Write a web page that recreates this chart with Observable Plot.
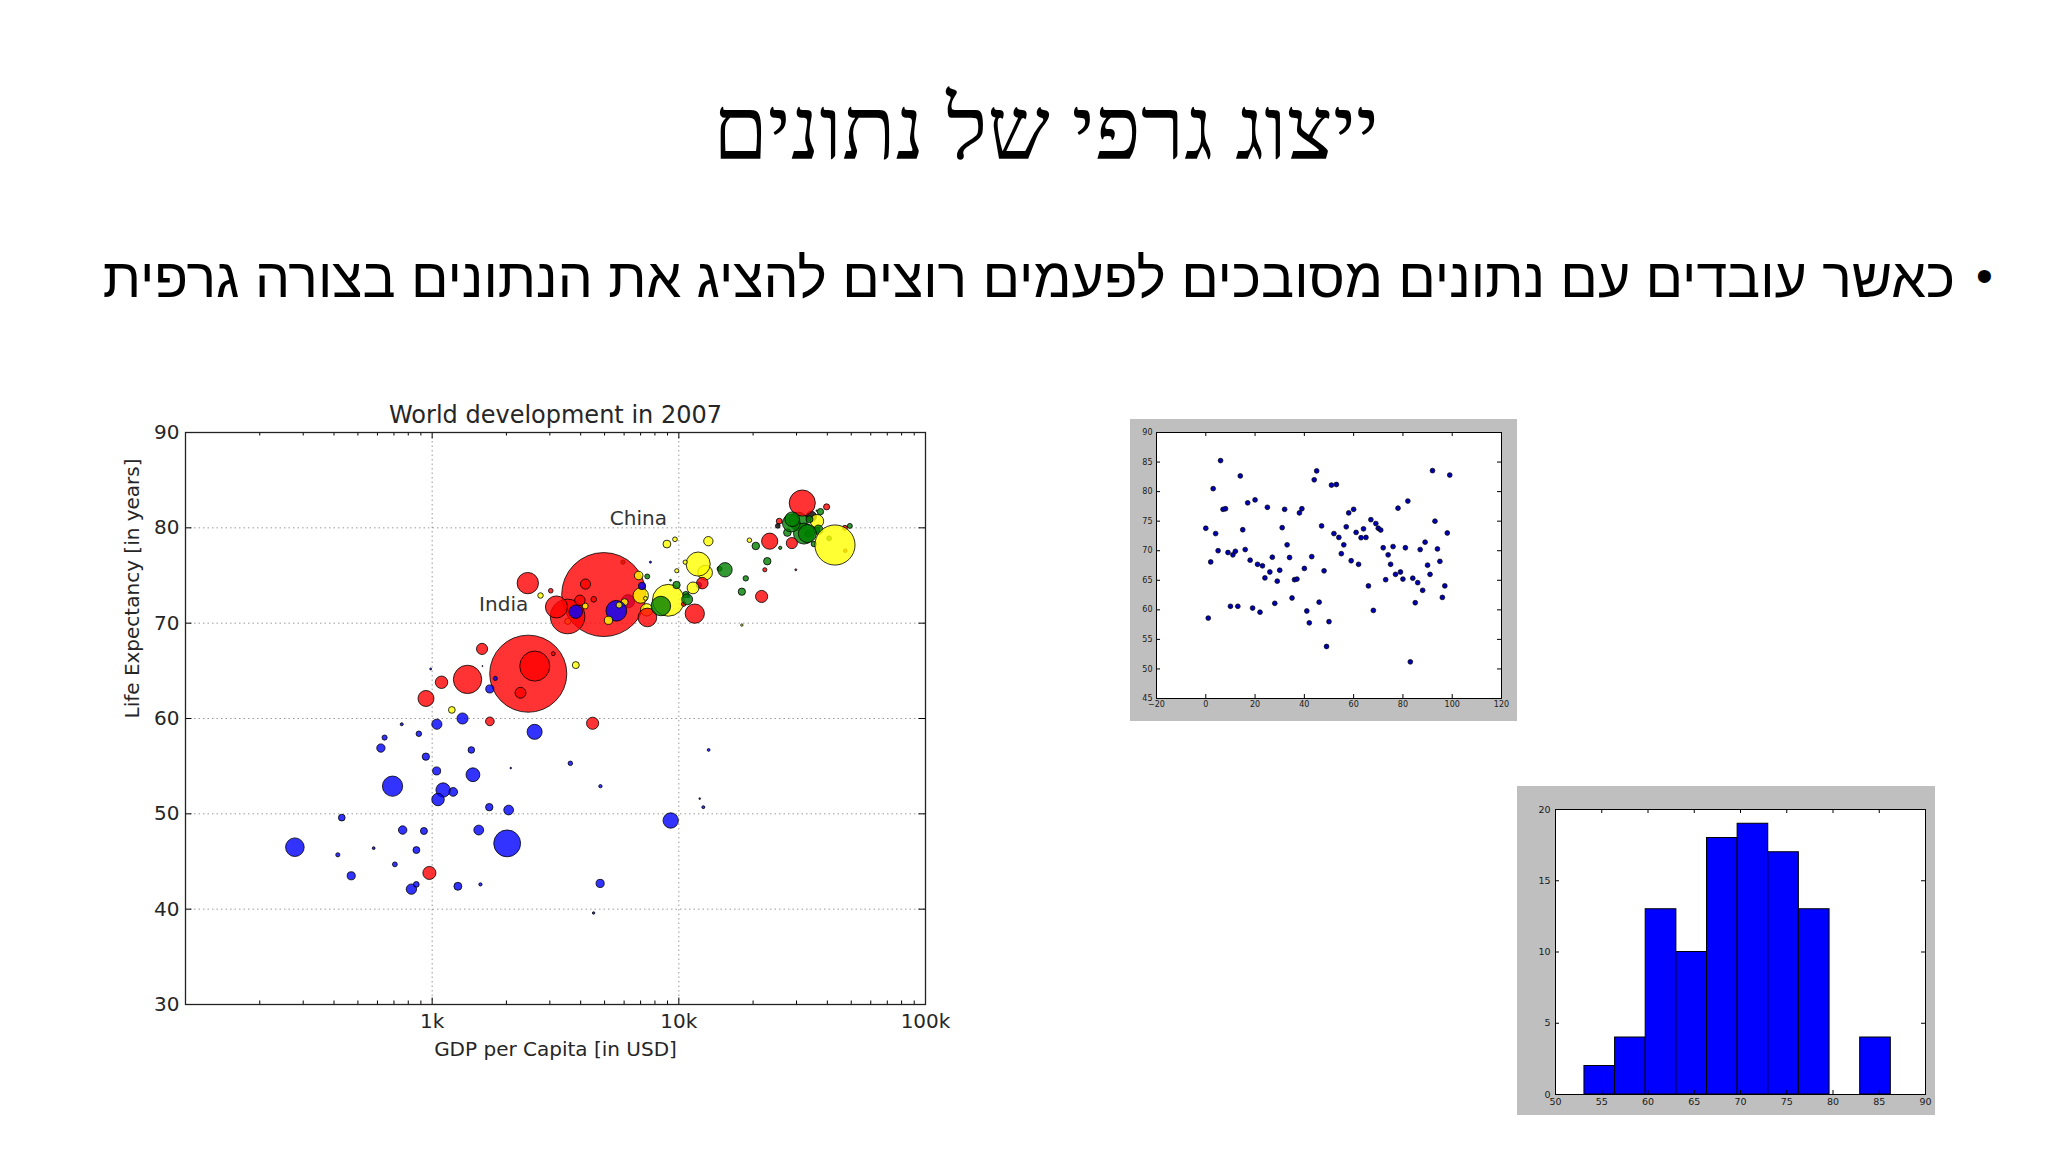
<!DOCTYPE html>
<html>
<head>
<meta charset="utf-8">
<script src="https://cdn.jsdelivr.net/npm/d3@7"></script>
<script src="https://cdn.jsdelivr.net/npm/@observablehq/plot@0.6"></script>
<style>
html, body { margin: 0; padding: 0; background: #ffffff; }
#slide { position: relative; width: 2048px; height: 1152px; overflow: hidden; background: #ffffff; }
#title { position: absolute; left: 1046px; top: 86px; transform: translateX(-50%);
  font-family: "Liberation Serif", "DejaVu Serif", serif; font-size: 88px; line-height: 1;
  direction: rtl; white-space: nowrap; color: #000; }
#bullet-text { position: absolute; right: 93px; top: 251px;
  font-family: "Liberation Sans", "DejaVu Sans", sans-serif; font-size: 55.4px; line-height: 1;
  direction: rtl; white-space: nowrap; color: #000; }
#bullet-dot { position: absolute; left: 1976px; top: 252px;
  font-family: "Liberation Sans", sans-serif; font-size: 48px; line-height: 1; color: #000; }
.chart { position: absolute; }
</style>
</head>
<body>
<div id="slide">
  <div id="title"></div>
  <div id="bullet-dot">•</div>
  <div id="bullet-text"></div>
  <div id="c1" class="chart" style="left:100px; top:380px;"></div>
  <div id="c2" class="chart" style="left:1130px; top:419px;"></div>
  <div id="c3" class="chart" style="left:1517px; top:786px;"></div>
</div>
<script>
// ---------------- slide texts ----------------
const slideTitle = "ייצוג גרפי של נתונים";
const bulletText = "כאשר עובדים עם נתונים מסובכים לפעמים רוצים להציג את הנתונים בצורה גרפית";

// ---------------- chart 1: World development in 2007 ----------------
const chart1Title = "World development in 2007";
const chart1XLabel = "GDP per Capita [in USD]";
const chart1YLabel = "Life Expectancy [in years]";
// countries in alphabetical order (draw order)
const gdpPerCap = [974.6,5937.0,6223.4,4797.2,12779.4,34435.4,36126.5,29796.0,1391.3,33692.6,
  1441.3,3822.1,7446.3,12569.9,9065.8,10680.8,1217.0,430.1,1713.8,2042.1,
  36319.2,706.0,1704.1,13171.6,4959.1,7006.6,986.1,277.6,3632.6,9645.1,
  1544.8,14619.2,8948.1,22833.3,35278.4,2082.5,6025.4,6873.3,5581.2,5728.4,
  12154.1,641.4,690.8,33207.1,30470.0,13206.5,752.7,32170.4,1327.6,27538.4,
  5186.1,942.7,579.2,1201.6,3548.3,39725.0,18008.9,36180.8,2452.2,3540.7,
  11605.7,4471.1,40676.0,25523.3,28569.7,7320.9,31656.1,4519.5,1463.2,1593.1,
  23348.1,47307.0,10461.1,1569.3,414.5,12057.5,1044.8,759.3,12451.7,1042.6,
  1803.2,10957.0,11977.6,3095.8,9253.9,3820.2,823.7,944.0,4811.1,1091.4,
  36797.9,25185.0,2749.3,619.7,2014.0,49357.2,22316.2,2606.0,9809.2,4172.8,
  7408.9,3190.5,15389.9,20509.6,19328.7,7670.1,10808.5,863.1,1598.4,21654.8,
  1712.5,9786.5,862.5,47143.2,18678.3,25768.3,926.1,9269.7,28821.1,3970.1,
  2602.4,4513.5,33859.7,37506.4,4184.5,28718.3,1107.5,7458.4,883.0,18008.5,
  7092.9,8458.3,1056.4,33203.3,42951.7,10611.5,11415.8,2441.6,3025.4,2280.8,
  1271.2,469.7];
const lifeExp = [43.8,76.4,72.3,42.7,75.3,81.2,79.8,75.6,64.1,79.4,
  56.7,65.6,74.9,50.7,72.4,73.0,52.3,49.6,59.7,50.4,
  80.7,44.7,50.7,78.6,73.0,72.9,65.2,46.5,55.3,78.8,
  48.3,75.7,78.3,76.5,78.3,54.8,72.2,75.0,71.3,71.9,
  51.6,58.0,52.9,79.3,80.7,56.7,59.4,79.4,60.0,79.5,
  70.3,56.0,46.4,60.9,70.2,82.2,73.3,81.8,64.7,70.7,
  71.0,59.5,78.9,80.7,80.5,72.6,82.6,72.5,54.1,67.3,
  78.6,77.6,72.0,42.6,45.7,74.0,59.4,48.3,74.2,54.5,
  64.2,72.8,76.2,66.8,74.5,71.2,42.1,62.1,52.9,63.8,
  79.8,80.2,72.9,56.9,46.9,80.2,75.6,65.5,75.5,71.8,
  71.4,71.7,75.6,78.1,78.7,76.4,72.5,46.2,65.5,72.8,
  63.1,74.0,42.6,80.0,74.7,77.9,48.2,49.3,80.9,72.4,
  58.6,39.6,80.9,81.7,74.1,78.4,52.5,70.6,58.4,69.8,
  73.9,71.8,51.5,79.4,78.2,76.4,73.7,74.2,73.4,62.7,
  42.4,43.5];
const popMillions = [31.89,3.60,33.33,12.42,40.30,20.43,8.20,0.71,150.45,10.39,
  8.08,9.12,4.55,1.64,190.01,7.32,14.33,8.39,14.13,17.70,
  33.39,4.37,10.24,16.28,1318.68,44.23,0.71,64.61,3.80,4.13,
  18.01,4.49,11.42,10.23,5.47,0.50,9.32,13.76,80.26,6.94,
  0.55,4.91,76.51,5.24,61.08,1.45,1.69,82.40,22.87,10.71,
  12.57,9.95,1.47,8.50,7.48,6.98,9.96,0.30,1110.40,223.55,
  69.45,27.50,4.11,6.43,58.15,2.78,127.47,6.05,35.61,23.30,
  49.04,2.51,3.92,2.01,3.19,6.04,19.17,13.33,24.82,12.03,
  3.27,1.25,108.70,2.87,0.68,33.76,19.95,47.76,2.06,28.90,
  16.57,4.12,5.68,12.89,135.03,4.63,3.20,169.27,3.24,6.67,
  28.67,91.08,38.52,10.64,3.94,0.80,22.28,8.86,0.20,27.60,
  12.27,10.15,6.14,4.55,5.45,2.01,9.12,44.00,40.45,20.38,
  42.29,1.13,9.03,7.55,19.31,23.17,38.14,65.07,5.70,1.06,
  10.28,71.16,29.17,60.78,301.14,3.45,26.08,85.26,4.02,22.21,
  11.75,12.31];
const continent = ["Asia","Europe","Africa","Africa","Americas","Oceania","Europe","Asia","Asia","Europe",
  "Africa","Americas","Europe","Africa","Americas","Europe","Africa","Africa","Asia","Africa",
  "Americas","Africa","Africa","Americas","Asia","Americas","Africa","Africa","Africa","Americas",
  "Africa","Europe","Americas","Europe","Europe","Africa","Americas","Americas","Africa","Americas",
  "Africa","Africa","Africa","Europe","Europe","Africa","Africa","Europe","Africa","Europe",
  "Americas","Africa","Africa","Americas","Americas","Asia","Europe","Europe","Asia","Asia",
  "Asia","Asia","Europe","Asia","Europe","Americas","Asia","Asia","Africa","Asia",
  "Asia","Asia","Asia","Africa","Africa","Africa","Africa","Africa","Asia","Africa",
  "Africa","Africa","Americas","Asia","Europe","Africa","Africa","Asia","Africa","Asia",
  "Europe","Oceania","Americas","Africa","Africa","Europe","Asia","Asia","Americas","Americas",
  "Americas","Asia","Europe","Europe","Americas","Africa","Europe","Africa","Africa","Asia",
  "Africa","Europe","Africa","Asia","Europe","Europe","Africa","Africa","Europe","Asia",
  "Africa","Africa","Europe","Europe","Asia","Asia","Africa","Asia","Africa","Americas",
  "Africa","Europe","Africa","Europe","Americas","Americas","Americas","Asia","Asia","Asia",
  "Africa","Africa"];
const continentNames = ["Asia","Europe","Africa","Americas","Oceania"];
const continentColors = ["red","green","blue","yellow","black"];
const annotationText = ["India","China"];
const annotationGdp = [1550, 5250];
const annotationLife = [71.25, 80.25];
const c1XTicks = [1000, 10000, 100000];
const c1XTickLabels = ["1k", "10k", "100k"];
const c1XMinorTicks = [200,300,400,500,600,700,800,900,2000,3000,4000,5000,6000,7000,8000,9000,
  20000,30000,40000,50000,60000,70000,80000,90000];
const c1YTicks = [30, 40, 50, 60, 70, 80, 90];

// ---------------- chart 2: scatter ----------------
const scatterX = [0,1,2,3,4,5,6,7,8,9,10,11,12,13,14,15,16,17,18,19,20,21,22,23,24,25,26,27,28,29,
  30,31,32,33,34,35,36,37,38,39,40,41,42,43,44,45,46,47,48,49,50,51,52,53,54,55,56,57,58,59,
  60,61,62,63,64,65,66,67,68,69,70,71,72,73,74,75,76,77,78,79,80,81,82,83,84,85,86,87,88,89,
  90,91,92,93,94,95,96,97,98,99];
const scatterY = [73.8,58.6,68.1,80.5,72.9,70.0,85.25,77.0,77.1,69.7,
  60.6,69.3,69.9,60.6,82.65,73.55,70.2,78.1,68.4,60.3,
  78.6,67.7,59.6,67.45,65.4,77.35,66.4,68.9,61.1,64.85,
  66.7,73.9,77.0,71.0,68.85,62.0,65.1,65.2,76.4,77.1,
  67.0,59.8,57.8,69.0,82.0,83.5,61.3,74.2,66.6,53.8,
  58.0,81.1,72.9,81.2,72.25,69.5,71.0,74.05,76.4,68.3,
  77.0,73.1,67.7,72.2,73.7,72.25,64.05,75.25,59.9,74.6,
  73.8,73.5,70.5,65.1,69.3,67.7,70.7,66.0,77.2,66.4,
  65.2,70.5,78.4,51.2,65.35,61.2,64.6,70.2,63.3,71.45,
  67.55,66.0,83.55,75.0,70.3,68.2,62.1,64.05,73.0,82.8];
const c2XTicks = [-20, 0, 20, 40, 60, 80, 100, 120];
const c2YTicks = [45, 50, 55, 60, 65, 70, 75, 80, 85, 90];

// ---------------- chart 3: histogram ----------------
const histBinEdges = [53.13, 56.44, 59.75, 63.07, 66.38, 69.69, 73.00, 76.31, 79.63, 82.94, 86.25];
const histCounts = [2, 4, 13, 10, 18, 19, 17, 13, 0, 4];
const c3XTicks = [50, 55, 60, 65, 70, 75, 80, 85, 90];
const c3YTicks = [0, 5, 10, 15, 20];

// ---------------- texts ----------------
document.getElementById("title").textContent = slideTitle;
document.getElementById("bullet-text").textContent = bulletText;

// helper: inside ticks on all four sides
function insideTicks(xs, ys, fw, fh, len, opts = {}) {
  const st = {stroke: "#000", strokeWidth: 1, ...opts};
  const marks = [];
  if (xs) {
    marks.push(Plot.tickX(xs, {x: d => d, insetTop: fh - len, ...st}));
    marks.push(Plot.tickX(xs, {x: d => d, insetBottom: fh - len, ...st}));
  }
  if (ys) {
    marks.push(Plot.tickY(ys, {y: d => d, insetRight: fw - len, ...st}));
    marks.push(Plot.tickY(ys, {y: d => d, insetLeft: fw - len, ...st}));
  }
  return marks;
}

// ---------------- chart 1 ----------------
{
  const W = 860, H = 690, m = {top: 52, right: 35, bottom: 66, left: 85};
  const fw = W - m.left - m.right, fh = H - m.top - m.bottom;
  const rows = gdpPerCap.map((g, i) => ({gdp: g, life: lifeExp[i], pop: popMillions[i],
    color: continentColors[continentNames.indexOf(continent[i])]}));
  const notes = annotationText.map((t, i) => ({t, x: annotationGdp[i], y: annotationLife[i]}));
  const chart = Plot.plot({
    width: W, height: H,
    marginTop: m.top, marginRight: m.right, marginBottom: m.bottom, marginLeft: m.left,
    x: {type: "log", domain: [100, 100000]},
    y: {domain: [30, 90]},
    r: {type: "sqrt", domain: [0, 1318.68], range: [0, 42]},
    color: {type: "identity"},
    style: {fontFamily: "DejaVu Sans, sans-serif", fontSize: "20px", color: "#262626", background: "transparent"},
    marks: [
      Plot.frame({fill: "#ffffff"}),
      Plot.gridX(c1XTicks, {stroke: "#000", strokeOpacity: 0.4, strokeDasharray: "1.5,3"}),
      Plot.gridY(c1YTicks, {stroke: "#000", strokeOpacity: 0.4, strokeDasharray: "1.5,3"}),
      Plot.dot(rows, {x: "gdp", y: "life", r: "pop", fill: "color", fillOpacity: 0.8,
        stroke: "#000", strokeOpacity: 0.8, strokeWidth: 1, sort: null}),
      ...insideTicks(c1XTicks, c1YTicks, fw, fh, 6.5),
      ...insideTicks(c1XMinorTicks, null, fw, fh, 3.5),
      Plot.frame({stroke: "#222", strokeWidth: 1.3}),
      Plot.axisX({ticks: c1XTicks, tickFormat: d => c1XTickLabels[c1XTicks.indexOf(d)],
        tickSize: 0, tickPadding: 9, label: null}),
      Plot.axisY({ticks: c1YTicks, tickSize: 0, tickPadding: 6, label: null}),
      Plot.text(notes, {x: "x", y: "y", text: "t", textAnchor: "start", lineAnchor: "bottom",
        fontSize: 20, fill: "#333"}),
      Plot.text([chart1Title], {frameAnchor: "top", dy: -10, lineAnchor: "bottom", fontSize: 24}),
      Plot.text([chart1XLabel], {frameAnchor: "bottom", dy: 45, lineAnchor: "middle", fontSize: 20}),
      Plot.text([chart1YLabel], {frameAnchor: "left", dx: -53, rotate: -90, lineAnchor: "middle", fontSize: 20})
    ]
  });
  document.getElementById("c1").appendChild(chart);
}

// ---------------- chart 2 ----------------
{
  const W = 387, H = 302, m = {top: 13, right: 16, bottom: 23, left: 26};
  const fw = W - m.left - m.right, fh = H - m.top - m.bottom;
  const pts = scatterX.map((x, i) => ({x, y: scatterY[i]}));
  const chart = Plot.plot({
    width: W, height: H,
    marginTop: m.top, marginRight: m.right, marginBottom: m.bottom, marginLeft: m.left,
    x: {domain: [-20, 120]},
    y: {domain: [45, 90]},
    style: {fontFamily: "DejaVu Sans, sans-serif", fontSize: "8px", color: "#1a1a1a", background: "#bfbfbf"},
    marks: [
      Plot.frame({fill: "#ffffff"}),
      Plot.dot(pts, {x: "x", y: "y", r: 2.4, fill: "#0000b0", stroke: "#000", strokeWidth: 0.7}),
      ...insideTicks(c2XTicks, c2YTicks, fw, fh, 4),
      Plot.frame({stroke: "#000", strokeWidth: 1}),
      Plot.axisX({ticks: c2XTicks, tickSize: 0, tickPadding: 3, label: null}),
      Plot.axisY({ticks: c2YTicks, tickSize: 0, tickPadding: 4, label: null})
    ]
  });
  document.getElementById("c2").appendChild(chart);
}

// ---------------- chart 3 ----------------
{
  const W = 418, H = 329, m = {top: 23, right: 10, bottom: 21, left: 38};
  const fw = W - m.left - m.right, fh = H - m.top - m.bottom;
  const bins = histCounts.map((c, i) => ({x1: histBinEdges[i], x2: histBinEdges[i + 1], count: c}));
  const chart = Plot.plot({
    width: W, height: H,
    marginTop: m.top, marginRight: m.right, marginBottom: m.bottom, marginLeft: m.left,
    x: {domain: [50, 90]},
    y: {domain: [0, 20]},
    style: {fontFamily: "DejaVu Sans, sans-serif", fontSize: "9.5px", color: "#1a1a1a", background: "#bfbfbf"},
    marks: [
      Plot.frame({fill: "#ffffff"}),
      Plot.rectY(bins, {x1: "x1", x2: "x2", y: "count", filter: d => d.count > 0,
        fill: "#0000ff", stroke: "#000", strokeWidth: 1, inset: 0}),
      ...insideTicks(c3XTicks, c3YTicks, fw, fh, 4),
      Plot.frame({stroke: "#000", strokeWidth: 1}),
      Plot.axisX({ticks: c3XTicks, tickSize: 0, tickPadding: 4, label: null}),
      Plot.axisY({ticks: c3YTicks, tickSize: 0, tickPadding: 5, label: null})
    ]
  });
  document.getElementById("c3").appendChild(chart);
}
</script>
</body>
</html>
